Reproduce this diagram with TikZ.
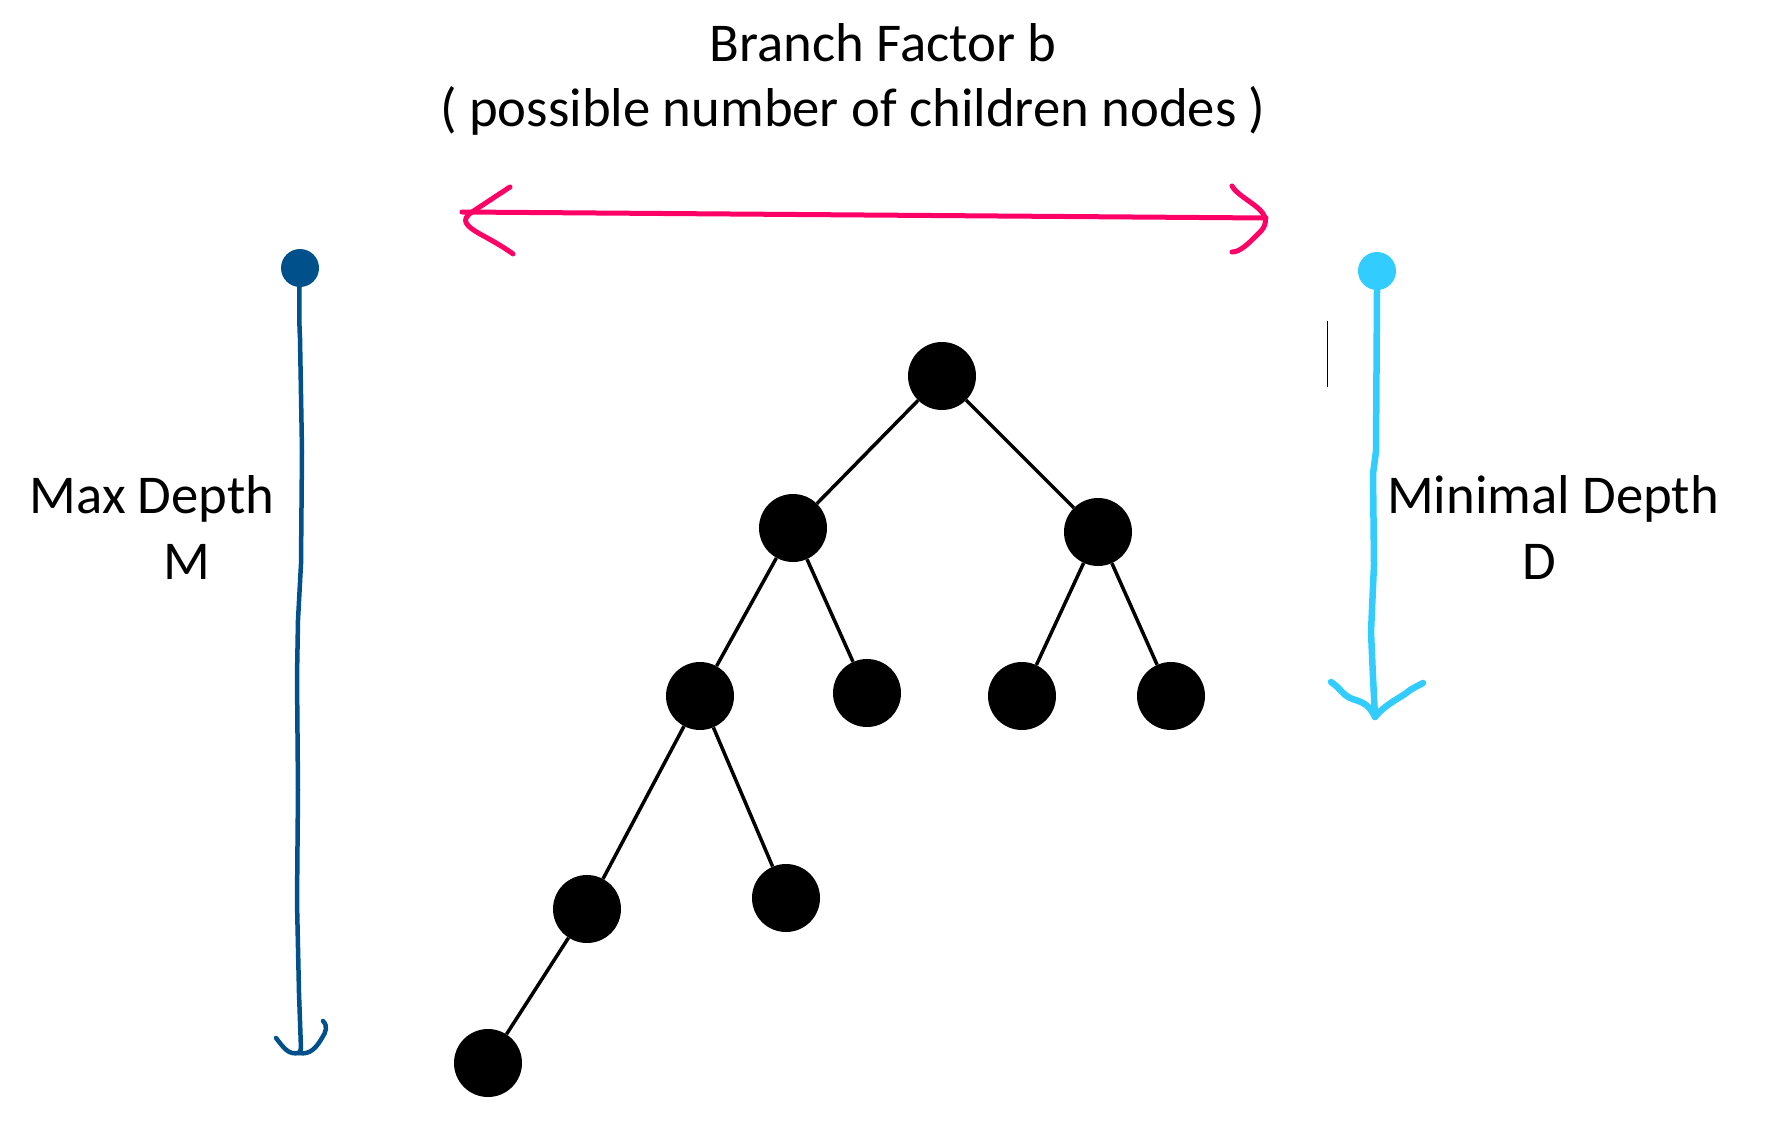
\documentclass[tikz,border=0pt]{standalone}
\usepackage{fontspec}
\setmainfont{Carlito}
\definecolor{pinkc}{RGB}{255,0,102}
\definecolor{bluec}{RGB}{0,80,140}
\definecolor{cyanc}{RGB}{51,204,255}
\begin{document}
\begin{tikzpicture}[x=1pt,y=-1pt,
  treenode/.style={circle,fill=black,minimum size=68pt,inner sep=0pt},
  edge/.style={line width=3.5pt,black},
  lbl/.style={anchor=base,inner sep=0pt,font=\fontsize{54.7}{66}\selectfont},
  hand/.style={line cap=round,line join=round}]
\useasboundingbox (0,0) rectangle (1769,1126);
% title
\node[lbl] (t1) at (883,62) {Branch Factor b};
\node[lbl] (t2) at (853,127) {( possible number of children nodes )};
% side labels
\node[lbl] (m1) at (152,513) {Max Depth};
\node[lbl] (m2) at (187,579) {M};
\node[lbl] (d1) at (1553,513) {Minimal Depth};
\node[lbl] (d2) at (1539,579) {D};
% pink double arrow
\coordinate (pl) at (462,212);
\coordinate (pr) at (1266,218);
\draw[pinkc,line width=5pt,hand] (pl) -- (pr);
\draw[pinkc,line width=5pt,hand] (510,187) -- (472,212) .. controls (460,220) and (466,226) .. (480,234) .. controls (495,242) and (508,250) .. (513,254);
\draw[pinkc,line width=5pt,hand] (1232,186) .. controls (1236,194) and (1252,202) .. (1260,210) .. controls (1268,218) and (1267,226) .. (1258,234) .. controls (1248,244) and (1240,252) .. (1232,252);
% blue max depth arrow
\node[circle,fill=bluec,minimum size=38pt,inner sep=0pt] (bdot) at (300,268) {};
\coordinate (bend) at (299,1053);
\draw[bluec,line width=4.5pt,hand] (bdot.center) .. controls (299,300) and (299,320) .. (300,338) -- (302,451) -- (301,564) -- (298,620) -- (297,677) -- (298,790) -- (297,902) -- (299,993) -- (301,1049) -- (bend);
\draw[bluec,line width=4.5pt,hand] (276,1038) .. controls (284,1048) and (288,1055) .. (bend) .. controls (310,1055) and (316,1048) .. (322,1038) .. controls (326,1032) and (328,1026) .. (323,1021);
% cyan minimal depth arrow
\node[circle,fill=cyanc,minimum size=38pt,inner sep=0pt] (cdot) at (1377,271) {};
\coordinate (cend) at (1375,717);
\draw[cyanc,line width=6.5pt,hand] (cdot.center) -- (1377,290) -- (1376,451) -- (1373,474) -- (1374,564) -- (1371,632) -- (1373,677) -- (cend);
\draw[cyanc,line width=6.5pt,hand] (1331,682) .. controls (1340,688) and (1343,695) .. (1350,698) .. controls (1360,702) and (1368,702) .. (cend) .. controls (1382,708) and (1392,702) .. (1405,694) .. controls (1412,688) and (1418,686) .. (1423,683);
% thin black mark
\coordinate (k1) at (1327,321);
\coordinate (k2) at (1327,387);
\draw[black,line width=1pt] (k1) -- (k2);
% tree
\node[treenode] (r) at (942,376) {};
\node[treenode] (a) at (793,528) {};
\node[treenode] (b) at (1098,532) {};
\node[treenode] (aa) at (700,696) {};
\node[treenode] (ab) at (867,693) {};
\node[treenode] (ba) at (1022,696) {};
\node[treenode] (bb) at (1171,696) {};
\node[treenode] (aaa) at (587,909) {};
\node[treenode] (aab) at (786,898) {};
\node[treenode] (aaaa) at (488,1063) {};
\draw[edge] (r) -- (a);
\draw[edge] (r) -- (b);
\draw[edge] (a) -- (aa);
\draw[edge] (a) -- (ab);
\draw[edge] (b) -- (ba);
\draw[edge] (b) -- (bb);
\draw[edge] (aa) -- (aaa);
\draw[edge] (aa) -- (aab);
\draw[edge] (aaa) -- (aaaa);
\end{tikzpicture}
\end{document}
